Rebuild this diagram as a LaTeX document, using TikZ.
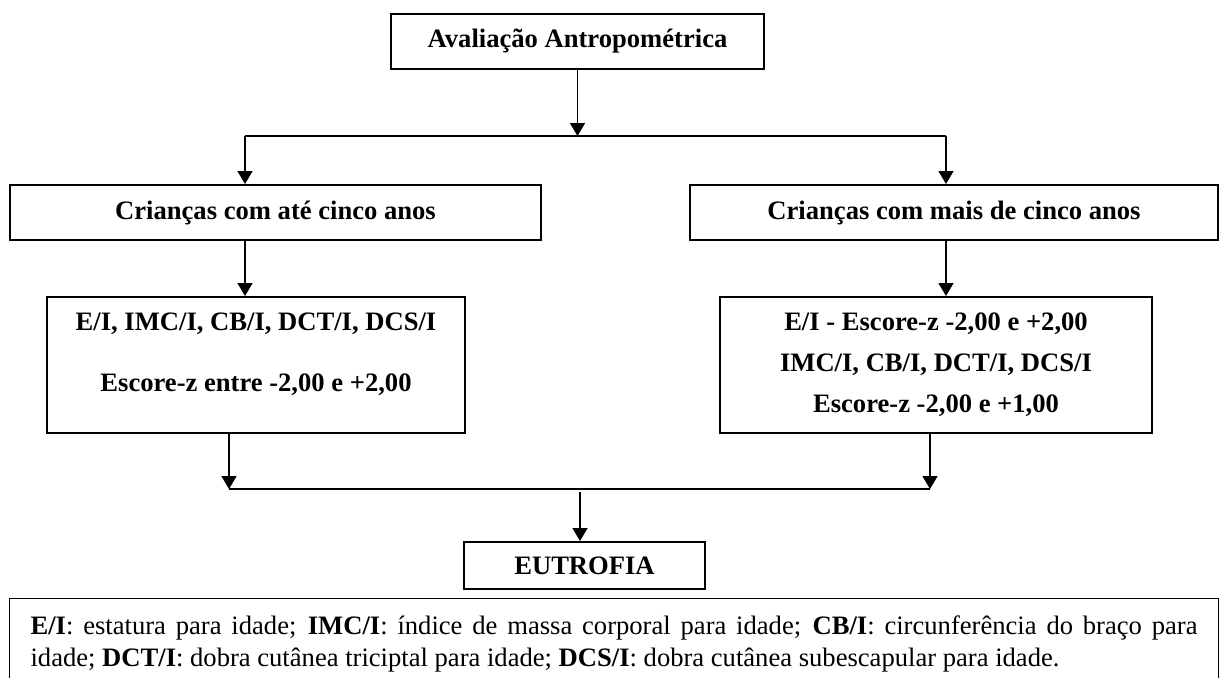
\documentclass[tikz,border=0pt]{standalone}
\usepackage{fontspec}
\setmainfont{Liberation Serif}
\usetikzlibrary{arrows.meta}

\begin{document}
\begin{tikzpicture}[
        x=0.5pt, y=-0.5pt,
        caixa/.style={rectangle, draw, line width=1pt, inner sep=2pt, align=center, font=\fontsize{13.3}{20.5}\selectfont\bfseries},
        seta/.style={-{Triangle[width=7.5pt,length=6.5pt]}, line width=0.75pt},
        linha/.style={line width=0.75pt},
        ]
        \useasboundingbox (0,0) rectangle (1220,677);
        %Nodes
        \node[caixa, minimum width=186.5pt, minimum height=27.5pt] (avaliacao) at (577.5,41.5) {Avaliação Antropométrica};
        \node[caixa, minimum width=265.5pt, minimum height=27.5pt] (ate5)      at (275.5,212.5) {Crianças com até cinco anos};
        \node[caixa, minimum width=264pt,   minimum height=27.5pt] (mais5)     at (954,212.5) {Crianças com mais de cinco anos};
        \node[caixa, minimum width=209pt,   minimum height=68pt, text depth=12.7pt] (escoreate) at (256,365) {E/I, IMC/I, CB/I, DCT/I, DCS/I\\[10pt]Escore-z entre -2,00 e +2,00};
        \node[caixa, minimum width=216pt,   minimum height=68pt] (escoremais) at (936,365) {E/I - Escore-z -2,00 e +2,00\\IMC/I, CB/I, DCT/I, DCS/I\\Escore-z -2,00 e +1,00};
        \node[caixa, minimum width=120.5pt, minimum height=23.5pt] (eutrofia)  at (584.5,565.5) {EUTROFIA};
        \node[draw, line width=0.6pt, anchor=north west, inner xsep=10.5pt, inner ysep=8.7pt, text width=583.5pt, align=justify,
              font=\fontsize{13.3}{16}\selectfont] (legenda) at (9,598)
              {\textbf{E/I}: estatura para idade; \textbf{IMC/I}: índice de massa corporal para idade; \textbf{CB/I}: circunferência do braço para\linebreak idade; \textbf{DCT/I}: dobra cutânea triciptal para idade; \textbf{DCS/I}: dobra cutânea subescapular para idade.};

        %Lines
        \coordinate (divesq)   at (245,136);
        \coordinate (divdir)   at (946,136);
        \coordinate (juntaesq) at (229,489);
        \coordinate (juntadir) at (930,489);
        \coordinate (juntameio) at (580,492);
        \draw[seta] (avaliacao) -- (avaliacao |- divesq);
        \draw[linha] (divesq) -- (divdir);
        \draw[seta] (divesq) -- (divesq |- ate5.north);
        \draw[seta] (divdir) -- (divdir |- mais5.north);
        \draw[seta] (divesq |- ate5.south) -- (divesq |- escoreate.north);
        \draw[seta] (divdir |- mais5.south) -- (divdir |- escoremais.north);
        \draw[seta] (juntaesq |- escoreate.south) -- (juntaesq);
        \draw[seta] (juntadir |- escoremais.south) -- (juntadir);
        \draw[linha] (juntaesq) -- (juntadir);
        \draw[seta] (juntameio) -- (juntameio |- eutrofia.north);
\end{tikzpicture}
\end{document}
